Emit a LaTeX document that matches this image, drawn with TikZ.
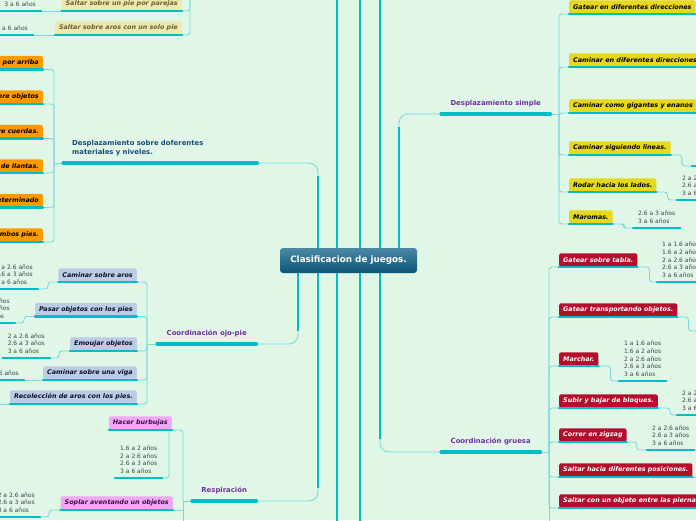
\documentclass[tikz,border=0pt]{standalone}
\usepackage{fontspec}
\setmainfont{DejaVu Sans}
\usetikzlibrary{calc}

\definecolor{bgmint}{RGB}{224,247,232}
\definecolor{tealline}{RGB}{0,190,198}
\definecolor{lightlink}{RGB}{118,218,222}
\definecolor{cenTop}{RGB}{76,136,166}
\definecolor{cenBot}{RGB}{10,86,118}
\definecolor{boxorange}{RGB}{255,153,0}
\definecolor{boxblue}{RGB}{186,205,228}
\definecolor{boxpink}{RGB}{240,168,245}
\definecolor{boxyellow}{RGB}{232,216,28}
\definecolor{boxred}{RGB}{181,14,44}
\definecolor{boxcream}{RGB}{238,232,172}
\definecolor{creamtext}{RGB}{105,95,55}
\definecolor{pinktext}{RGB}{60,15,70}
\definecolor{bluetext}{RGB}{15,15,35}
\definecolor{agegray}{RGB}{65,65,65}
\definecolor{branchpurple}{RGB}{112,48,160}
\definecolor{branchblue}{RGB}{25,75,120}

\begin{document}
\begin{tikzpicture}[
    x=1pt, y=-1pt,
    every node/.style={inner sep=0pt},
    box/.style={
        rounded corners=2pt,
        inner xsep=4pt,
        minimum height=13.5pt,
        font=\fontsize{6.4}{7.5}\selectfont\bfseries\itshape
    },
    orangebox/.style={box, fill=boxorange, text=black},
    bluebox/.style={box, fill=boxblue, text=bluetext},
    pinkbox/.style={box, fill=boxpink, text=pinktext},
    yellowbox/.style={box, fill=boxyellow, text=black},
    redbox/.style={box, fill=boxred, text=white},
    creambox/.style={box, fill=boxcream, text=creamtext},
    agetext/.style={
        align=left,
        inner xsep=5pt,
        inner ysep=4.5pt,
        text=agegray,
        font=\fontsize{6}{7.6}\selectfont
    },
    branch/.style={
        inner xsep=4pt,
        inner ysep=7pt,
        text=branchpurple,
        font=\fontsize{6.9}{8.5}\selectfont\bfseries
    },
    centerbox/.style={
        rounded corners=3pt,
        top color=cenTop,
        bottom color=cenBot,
        draw=none,
        minimum width=137pt,
        minimum height=25pt,
        text=white,
        font=\fontsize{8.8}{10}\selectfont\bfseries
    },
    uline/.style={draw=tealline, line width=2.2pt, line cap=round},
    thickline/.style={draw=tealline, line width=3.2pt, line cap=round},
    link/.style={draw=lightlink, line width=0.9pt, rounded corners=3pt},
    trunk/.style={draw=tealline, line width=2pt}
]
\path[use as bounding box, fill=bgmint] (0,0) rectangle (696,520);
\clip (0,0) rectangle (696,520);

\coordinate (topedge) at (0,-5);
\coordinate (botedge) at (0,525);
\coordinate (rightedge) at (702,0);
\coordinate (tO) at (298,0);
\coordinate (tD) at (318,0);
\coordinate (tA) at (337,0);
\coordinate (tB) at (360,0);
\coordinate (tG) at (380,0);
\coordinate (tS) at (399,0);

\node[centerbox] (cen) at (348.5,260.5) {Clasificacion de juegos.};

% branches
\node[branch, anchor=south west, text width=176pt, inner xsep=9pt, align=left,
    text=branchblue] (brD) at (63,163) {Desplazamiento sobre doferentes\\materiales y niveles.};
\node[branch, anchor=south west, minimum width=99pt] (brO) at (157,344) {Coordinación ojo-pie};
\node[branch, anchor=south west, minimum width=64pt] (brR) at (192,501) {Respiración};
\node[branch, anchor=south west, minimum width=109pt] (brS) at (441,114) {Desplazamiento simple};
\node[branch, anchor=south west, minimum width=99pt] (brG) at (441,452) {Coordinación gruesa};

% top left
\node[creambox, anchor=south east] (cr1) at (182,11) {Saltar sobre un pie por parejas};
\node[creambox, anchor=south east] (cr2) at (182,35) {Saltar sobre aros con un solo pie};
\node[agetext, anchor=south east] (cra1) at (41,11) {3 a 6 años};
\node[agetext, anchor=south east] (cra2) at (33,35) {1 a 6 años};
\coordinate (jC) at (190,-5);

% desplazamiento sobre diferentes materiales
\node[orangebox, anchor=south east] (o1) at (43,69.5) {Pasar obstáculos por arriba};
\node[orangebox, anchor=south east] (o2) at (43,104) {Caminar sobre objetos};
\node[orangebox, anchor=south east] (o3) at (43,138.5) {Caminar sobre cuerdas.};
\node[orangebox, anchor=south east] (o4) at (43,173) {Caminar dentro de llantas.};
\node[orangebox, anchor=south east] (o5) at (43,207.5) {Caminar en un espacio determinado};
\node[orangebox, anchor=south east] (o6) at (43,242) {Saltar con ambos pies.};
\coordinate (jD) at (54,163);

% coordinacion ojo-pie
\node[bluebox, anchor=south east] (b1) at (137,282) {Caminar sobre aros};
\node[bluebox, anchor=south east] (b2) at (137,316.5) {Pasar objetos con los pies};
\node[bluebox, anchor=south east] (b3) at (137,351) {Emoujar objetos};
\node[bluebox, anchor=south east] (b4) at (137,380) {Caminar sobre una viga};
\node[bluebox, anchor=south east] (b5) at (137,404) {Recolección de aros con los pies.};
\node[agetext, anchor=south east] (ab1) at (38,289) {2 a 2.6 años\\2.6 a 3 años\\3 a 6 años};
\node[agetext, anchor=south east] (ab2) at (15,323) {2 a 2.6 años\\2.6 a 3 años\\3 a 6 años};
\node[agetext, anchor=south east] (ab3) at (50,358) {2 a 2.6 años\\2.6 a 3 años\\3 a 6 años};
\node[agetext, anchor=south east] (ab4) at (24,380) {3 a 6 años};
\coordinate (ab5) at (-5,404);
\coordinate (jO) at (147,344);

% respiracion
\node[pinkbox, anchor=south east] (p1) at (172,430) {Hacer burbujas};
\node[pinkbox, anchor=south east] (p2) at (173,510) {Soplar aventando un objetos};
\node[agetext, anchor=south west] (ap1) at (115,478) {1.6 a 2 años\\2 a 2.6 años\\2.6 a 3 años\\3 a 6 años};
\node[agetext, anchor=south east] (ap2) at (40,517) {2 a 2.6 años\\2.6 a 3 años\\3 a 6 años};
\coordinate (jR) at (183,501);

% desplazamiento simple
\node[yellowbox, anchor=south west] (y1) at (569,14) {Gatear en diferentes direcciones};
\node[yellowbox, anchor=south west] (y2) at (569,67) {Caminar en diferentes direcciones};
\node[yellowbox, anchor=south west] (y3) at (569,113) {Caminar como gigantes y enanos};
\node[yellowbox, anchor=south west] (y4) at (569,155) {Caminar siguiendo lineas.};
\node[yellowbox, anchor=south west] (y5) at (569,192) {Rodar hacia los lados.};
\node[yellowbox, anchor=south west] (y6) at (569,224) {Maromas.};
\coordinate (ay4) at (692,166);
\node[agetext, anchor=south west] (ay5) at (677,200) {2 a 2.6 años\\2.6 a 3 años\\3 a 6 años};
\node[agetext, anchor=south west] (ay6) at (633,228) {2.6 a 3 años\\3 a 6 años};
\coordinate (jS) at (559,114);

% coordinacion gruesa
\node[redbox, anchor=south west] (r1) at (559,267) {Gatear sobre tabla.};
\node[redbox, anchor=south west] (r2) at (559,317) {Gatear transportando objetos.};
\node[redbox, anchor=south west] (r3) at (559,366) {Marchar.};
\node[redbox, anchor=south west] (r4) at (559,408) {Subir y bajar de bloques.};
\node[redbox, anchor=south west] (r5) at (559,442) {Correr en zigzag};
\node[redbox, anchor=south west] (r6) at (559,477) {Saltar hacia diferentes posiciones.};
\node[redbox, anchor=south west] (r7) at (559,508) {Saltar con un objeto entre las piernas};
\node[agetext, anchor=south west] (ar1) at (657,282) {1 a 1.6 años\\1.6 a 2 años\\2 a 2.6 años\\2.6 a 3 años\\3 a 6 años};
\coordinate (ar2) at (702,331);
\node[agetext, anchor=south west] (ar3) at (619,381) {1 a 1.6 años\\1.6 a 2 años\\2 a 2.6 años\\2.6 a 3 años\\3 a 6 años};
\node[agetext, anchor=south west] (ar4) at (677,415) {2 a 2.6 años\\2.6 a 3 años\\3 a 6 años};
\node[agetext, anchor=south west] (ar5) at (647,450) {2 a 2.6 años\\2.6 a 3 años\\3 a 6 años};
\coordinate (jG) at (549,452);

% trunks from the central topic
\draw[trunk] (cen.north -| tA) -- (tA |- topedge);
\draw[trunk] (cen.south -| tA) -- (tA |- botedge);
\draw[trunk] (cen.north -| tB) -- (tB |- topedge);
\draw[trunk] (cen.south -| tB) -- (tB |- botedge);
\draw[trunk] (cen.north -| tG) -- (tG |- topedge);
\draw[link, rounded corners=9pt] (brD.south east) -| (cen.north -| tD);
\draw[trunk, shorten >=13pt] (cen.north -| tD) -- (tD |- brD.south east);
\draw[link, rounded corners=9pt] (brR.south east) -| (cen.south -| tD);
\draw[trunk, shorten >=13pt] (cen.south -| tD) -- (tD |- brR.south east);
\draw[link, rounded corners=9pt] (brO.south east) -| (cen.south -| tO);
\draw[trunk, shorten >=13pt] (cen.south -| tO) -- (tO |- brO.south east);
\draw[link, rounded corners=9pt] (brS.south west) -| (cen.north -| tS);
\draw[trunk, shorten >=13pt] (cen.north -| tS) -- (tS |- brS.south west);
\draw[link, rounded corners=9pt] (brG.south west) -| (cen.south -| tG);
\draw[trunk, shorten >=13pt] (cen.south -| tG) -- (tG |- brG.south west);

% links
\draw[link] (cr1.south east) -| (jC);
\draw[link] (cr2.south east) -| (jC);
\draw[link] (cra1.south east) -- (cr1.south west);
\draw[link] (cra2.south east) -- (cr2.south west);

\foreach \b in {o1,o2,o3,o4,o5,o6}
    \draw[link] (\b.south east) -| (jD);
\draw[link] (jD) -- (brD.south west);

\foreach \b in {b1,b2,b3,b4,b5}
    \draw[link] (\b.south east) -| (jO);
\draw[link] (jO) -- (brO.south west);
\draw[link] (ab1.south east) -- ++(10,0) |- (b1.south west);
\draw[link] (ab2.south east) -- ++(9,0) |- (b2.south west);
\draw[link] (ab3.south east) -- ++(9,0) |- (b3.south west);
\draw[link] (ab4.south east) -- (b4.south west);
\draw[link] (ab5) -- (b5.south west);

\draw[link] (p1.south east) -| (jR);
\draw[link] (p2.south east) -- (p2.south east -| jR);
\draw[link] (jR) -- (jR |- botedge);
\draw[link] (jR) -- (brR.south west);
\draw[link] (ap1.south east) -| ($(p1.south east)+(-3,0)$);
\draw[link] (ap2.south east) -- ++(9,0) |- (p2.south west);

\foreach \b in {y1,y2,y3,y4,y5,y6}
    \draw[link] (\b.south west) -| (jS);
\draw[link] (brS.south east) -- (jS);
\draw[link] (y4.south east) -- ++(11,0) |- (ay4);
\draw[link] (y5.south east) -- ++(11,0) |- (ay5.south west);
\draw[link] (y6.south east) -- ++(11,0) |- (ay6.south west);

\foreach \b in {r1,r2,r3,r4,r5,r6,r7}
    \draw[link] (\b.south west) -| (jG);
\draw[link] (jG) -- (jG |- botedge);
\draw[link] (brG.south east) -- (jG);
\draw[link] (r1.south east) -- ++(12,0) |- (ar1.south west);
\draw[link] (r2.south east) -- ++(11,0) |- (ar2);
\draw[link] (r3.south east) -- ++(12,0) |- (ar3.south west);
\draw[link] (r4.south east) -- ++(12,0) |- (ar4.south west);
\draw[link] (r5.south east) -- ++(10,0) |- (ar5.south west);
\draw[link] (r6.south east) -- (r6.south east -| rightedge);

% underlines
\foreach \b in {brD,brO,brR,brS,brG}
    \draw[thickline] (\b.south west) -- (\b.south east);
\foreach \b in {cr1,cr2,cra1,cra2,o1,o2,o3,o4,o5,o6,b1,b2,b3,b4,b5,ab1,ab2,ab3,ab4,
    p1,p2,ap1,ap2,y1,y2,y3,y4,y5,y6,ay5,ay6,r1,r2,r3,r4,r5,r6,r7,ar1,ar3,ar4,ar5}
    \draw[uline] (\b.south west) -- (\b.south east);
\draw[uline] (ay4) -- ++(12,0);
\end{tikzpicture}
\end{document}
